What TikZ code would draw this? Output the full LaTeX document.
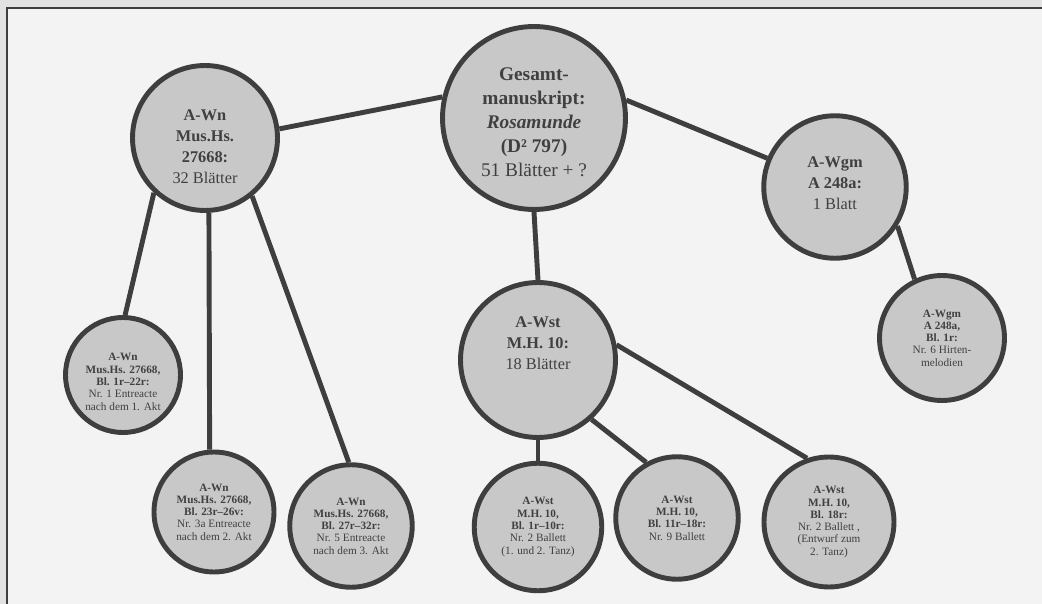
\documentclass[tikz,border=0pt]{standalone}
\usepackage{fontspec}
\setmainfont{Liberation Serif}
\definecolor{ringgray}{HTML}{3E3E3E}
\definecolor{fillgray}{HTML}{C8C8C8}
\definecolor{txtgray}{HTML}{404040}
\definecolor{panelgray}{HTML}{F3F3F3}
\definecolor{outergray}{HTML}{E2E2E2}
\newcommand{\txtdown}[1]{\rule{0pt}{#1}}
\newcommand{\txtup}[1]{\rule[-#1]{0pt}{0pt}}
\begin{document}
\begin{tikzpicture}[
    x=0.02cm, y=-0.02cm,
    src/.style={circle, draw=ringgray, fill=fillgray, line width=2.8pt, inner sep=0pt, align=center, text=txtgray},
    big/.style={src, font=\fontsize{11}{13.6}\selectfont},
    mid/.style={src, font=\fontsize{9.3}{12}\selectfont},
    sml/.style={src, font=\fontsize{6.4}{7}\selectfont},
    link/.style={draw=ringgray, line width=2.8pt}
  ]
    \useasboundingbox (0,0) rectangle (1042,604);
    \fill[outergray] (0,0) rectangle (1042,604);
    \fill[panelgray] (7,8) rectangle (1042,604);
    \draw[ringgray, line width=1.2pt] (7,604) -- (7,8) -- (1042,8);

    \node[big, minimum size=3.66cm] (ges) at (534,118)
      {\txtdown{12pt}\textbf{Gesamt-}\\\textbf{manuskript:}\\\textbf{\textit{Rosamunde}}\\\textbf{(D² 797)}\\51 Blätter + ?};
    \node[mid, minimum size=2.9cm] (wn) at (205,138)
      {\txtdown{16pt}\textbf{A-Wn}\\\textbf{Mus.Hs.}\\\textbf{27668:}\\32 Blätter};
    \node[mid, minimum size=2.85cm] (wgm) at (835,187)
      {\textbf{A-Wgm}\\\textbf{A 248a:}\\1 Blatt\txtup{4pt}};
    \node[mid, minimum size=3.1cm] (wst) at (538,360)
      {\textbf{A-Wst}\\\textbf{M.H. 10:}\\18 Blätter\txtup{19pt}};

    \node[sml, minimum size=2.3cm] (wn1) at (123,375)
      {\txtdown{12pt}\textbf{A-Wn}\\\textbf{Mus.Hs. 27668,}\\\textbf{Bl. 1r–22r:}\\Nr. 1 Entreacte\\nach dem 1. Akt};
    \node[sml, minimum size=2.4cm] (wn2) at (214,512)
      {\textbf{A-Wn}\\\textbf{Mus.Hs. 27668,}\\\textbf{Bl. 23r–26v:}\\Nr. 3a Entreacte\\nach dem 2. Akt};
    \node[sml, minimum size=2.45cm] (wn3) at (351,526)
      {\textbf{A-Wn}\\\textbf{Mus.Hs. 27668,}\\\textbf{Bl. 27r–32r:}\\Nr. 5 Entreacte\\nach dem 3. Akt};
    \node[sml, minimum size=2.55cm] (wst1) at (538,527)
      {\textbf{A-Wst}\\\textbf{M.H. 10,}\\\textbf{Bl. 1r–10r:}\\Nr. 2 Ballett\\(1. und 2. Tanz)};
    \node[sml, minimum size=2.45cm] (wst2) at (677,518)
      {\textbf{A-Wst}\\\textbf{M.H. 10,}\\\textbf{Bl. 11r–18r:}\\Nr. 9 Ballett};
    \node[sml, minimum size=2.6cm] (wst3) at (829,522)
      {\textbf{A-Wst}\\\textbf{M.H. 10,}\\\textbf{Bl. 18r:}\\Nr. 2 Ballett ,\\(Entwurf zum\\2. Tanz)};
    \node[sml, minimum size=2.5cm] (wgm1) at (942,338)
      {\textbf{A-Wgm}\\\textbf{A 248a,}\\\textbf{Bl. 1r:}\\Nr. 6 Hirten-\\melodien};

    \path[link] (ges.167) -- (wn.7);
    \path[link] (ges.11) -- (wgm.157);
    \path[link] (ges.south) -- (wst.north);
    \path[link] (wn.227) -- (wn1.88);
    \path[link] (wn.-87) -- (wn2.94);
    \path[link] (wn.-51) -- (wn3.92);
    \path[link] (wgm.-32) -- (wgm1.115);
    \path[link] (wst.south) -- (wst1.north);
    \path[link] (wst.-48) -- (wst2.119);
    \path[link] (wst.11) -- (wst3.109);
  \end{tikzpicture}
\end{document}
